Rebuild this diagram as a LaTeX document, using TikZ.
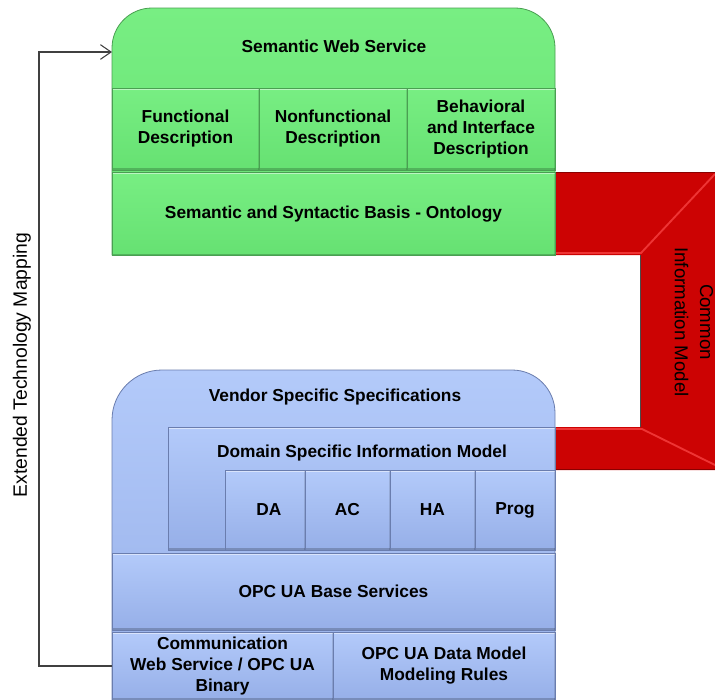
\documentclass[tikz,border=0pt]{standalone}
\usepackage{fontspec}
\setmainfont{Liberation Sans}
\usetikzlibrary{arrows.meta}
\definecolor{gtop}{HTML}{78EE83}
\definecolor{gbot}{HTML}{66E172}
\definecolor{gedge}{HTML}{4A9F52}
\definecolor{btop}{HTML}{B3CAFA}
\definecolor{bbot}{HTML}{96AFE8}
\definecolor{bedge}{HTML}{6A7DAE}
\definecolor{rfill}{HTML}{CC0303}
\definecolor{redge}{HTML}{8A0000}
\definecolor{rlight}{HTML}{EE3434}
\definecolor{lnk}{HTML}{404040}
\begin{document}
\begin{tikzpicture}[x=0.75pt,y=-0.75pt,
  bevel/.style={path picture={
     \draw[white,opacity=.5,line width=2.5pt] (path picture bounding box.north west) -- (path picture bounding box.north east);
     \draw[white,opacity=.3,line width=2pt] (path picture bounding box.north west) -- (path picture bounding box.south west);
     \draw[black,opacity=.2,line width=3pt] (path picture bounding box.south west) -- (path picture bounding box.south east);
     \draw[black,opacity=.12,line width=2pt] (path picture bounding box.north east) -- (path picture bounding box.south east);}},
  gbox/.style 2 args={minimum width=#1*0.75pt, minimum height=#2*0.75pt, inner sep=0pt, draw=gedge, line width=.6pt, top color=gtop, bottom color=gbot, bevel},
  bbox/.style 2 args={minimum width=#1*0.75pt, minimum height=#2*0.75pt, inner sep=0pt, draw=bedge, line width=.6pt, top color=btop, bottom color=bbot, bevel},
  lbl/.style={font=\bfseries\fontsize{13}{15.75}\selectfont, align=center, text=black},
  side/.style={font=\fontsize{14.5}{17}\selectfont, align=center, text=black},
  link/.style={draw=lnk, line width=0.8pt, -{Straight Barb[length=8pt,width=11pt]}}
]
\path[use as bounding box] (0,0) rectangle (715,700);

% red common information model frame
\fill[rfill] (555,172) -- (715,172) -- (715,470) -- (555,470) -- (555,427) -- (640,427) -- (640,255) -- (555,255) -- cycle;
\draw[redge, line width=1pt] (555,172.5) -- (715,172.5);
\draw[redge, line width=1pt] (555,469.5) -- (715,469.5);
\draw[rlight, line width=1.4pt] (555,253) -- (641,253) -- (715,174);
\draw[rlight, line width=1.4pt] (555,429) -- (642,429) -- (715,465);
\draw[black!70, line width=.6pt] (640,255) -- (640,427);
\node[side, font=\fontsize{14}{19}\selectfont, rotate=-90] (cim) at (694,322) {Common\\Information Model};

% green block
\shadedraw[top color=gtop, bottom color=gbot, draw=gedge, line width=.6pt]
  (112,255) -- (112,48) arc[start angle=180, end angle=270, radius=40] -- (515,8)
  arc[start angle=270, end angle=360, radius=40] -- (555,255) -- cycle;
\node[lbl] (sws) at (334,46) {Semantic Web Service};
\coordinate (mapin) at (112,52);
\node[gbox={147}{82}, lbl] (func) at (185.5,129) {Functional\\Description};
\node[gbox={148}{82}, lbl] (nonf) at (333,129) {Nonfunctional\\Description};
\node[gbox={148}{82}, lbl] (behav) at (481,129) {Behavioral\\and Interface\\Description};
\node[gbox={443}{83}, lbl] (onto) at (333.5,214) {Semantic and Syntactic Basis - Ontology};

% blue block
\shadedraw[top color=btop, bottom color=bbot, draw=bedge, line width=.6pt]
  (112,700) -- (112,420) arc[start angle=180, end angle=270, radius=50] -- (512,370)
  arc[start angle=270, end angle=360, radius=43] -- (555,700) -- cycle;
\node[lbl] (vss) at (335,397) {Vendor Specific Specifications};
\node[bbox={387}{123}] (dsim) at (361.5,488.5) {};
\node[lbl] (dsimt) at (362,453) {Domain Specific Information Model};
\node[bbox={80}{80}, lbl] (da) at (265,510) {\hspace*{6pt}DA};
\node[bbox={85}{80}, lbl] (ac) at (347.5,510) {AC};
\node[bbox={85}{80}, lbl] (ha) at (432.5,510) {HA};
\node[bbox={80}{80}, lbl] (prog) at (515,510) {Prog};
\node[bbox={443}{77}, lbl] (base) at (333.5,591.5) {OPC UA Base Services};
\node[bbox={221}{68}, lbl] (comm) at (222.5,666) {Communication\\Web Service / OPC UA\\Binary};
\node[bbox={222}{68}, lbl] (dm) at (444,666) {OPC UA Data Model\\Modeling Rules};

% extended technology mapping
\draw[link] (comm.west) -- (39,666) |- (mapin);
\node[side, rotate=90] (etm) at (22,365) {Extended Technology Mapping};
\end{tikzpicture}
\end{document}
